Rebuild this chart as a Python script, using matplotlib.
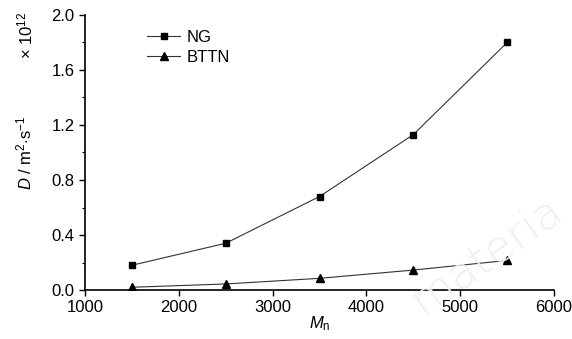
import matplotlib
matplotlib.use("Agg")
import matplotlib.pyplot as plt
from matplotlib.ticker import MultipleLocator

plt.rcParams['font.family'] = ['Liberation Sans', 'DejaVu Sans']
plt.rcParams['mathtext.fontset'] = 'custom'
plt.rcParams['mathtext.rm'] = 'Liberation Sans'
plt.rcParams['mathtext.it'] = 'Liberation Sans:italic'

mn = [1500, 2500, 3500, 4500, 5500]
ng = [0.18, 0.34, 0.68, 1.13, 1.80]
bttn = [0.02, 0.044, 0.085, 0.145, 0.215]

fig = plt.figure(figsize=(5.72, 3.39), dpi=100)
ax = fig.add_axes([0.1486, 0.1445, 0.82, 0.8113])

ax.plot(mn, ng, color='#333333', lw=0.8, marker='s', ms=5, mfc='black', mec='black', label='NG')
ax.plot(mn, bttn, color='#333333', lw=0.8, marker='^', ms=6, mfc='black', mec='black', label='BTTN')

ax.set_xlim(1000, 6000)
ax.set_ylim(0, 2.0)
ax.set_xticks([1000, 2000, 3000, 4000, 5000, 6000])
ax.set_yticks([0.0, 0.4, 0.8, 1.2, 1.6, 2.0])
ax.yaxis.set_minor_locator(MultipleLocator(0.2))
ax.yaxis.set_major_formatter(plt.FuncFormatter(lambda v, p: f"{v:.1f}"))

for s in ['top', 'right']:
    ax.spines[s].set_visible(False)
for s in ['left', 'bottom']:
    ax.spines[s].set_linewidth(1.2)
ax.tick_params(axis='both', which='major', direction='out', length=4, width=1.0, labelsize=12)
ax.tick_params(axis='y', which='minor', direction='out', length=2.5, width=0.8)

ax.set_xlabel(r'$M_\mathrm{n}$', fontsize=12, labelpad=-1)
ax.set_ylabel(r'$D$ / m$^2$$\cdot$s$^{-1}$', fontsize=12, labelpad=12)
fig.text(0.045, 0.895, '× 10$^{12}$', rotation=90, ha='center', va='center', fontsize=12)

ax.legend(loc='upper left', bbox_to_anchor=(0.1, 1.0), frameon=False, fontsize=12,
          handlelength=2.0, handletextpad=0.4, labelspacing=0.3)

# faint watermark
fig.text(0.85, 0.25, 'materia', rotation=35, fontsize=32, color='#efefef',
         family='DejaVu Sans', fontweight='light', ha='center', va='center', zorder=0)

fig.savefig('out.png', dpi=100)
